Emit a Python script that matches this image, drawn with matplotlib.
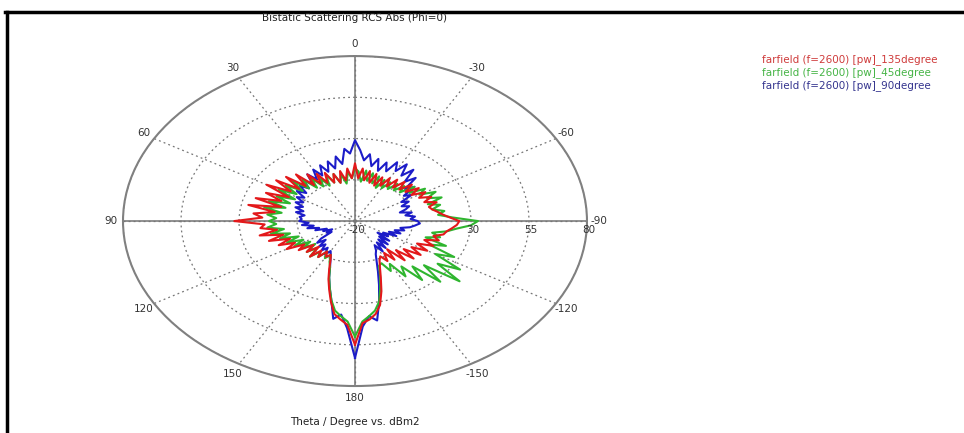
import numpy as np
import matplotlib
matplotlib.use("Agg")
import matplotlib.pyplot as plt
from matplotlib.lines import Line2D

# Winkel in Grad (positiv = nach links, 0 oben), Schritt 3 Grad
theta_deg = list(range(-180, 180, 3))

# Werte in dBm2
red_135 = [55, 42, 40, 37, 32, 24, 16, 10, 6, 4,
           8, 3, 9, 2, 12, 5, 14, 7, 15, 9,
           16, 10, 17, 12, 18, 15, 19, 20, 22, 24,
           25, 21, 18, 16, 14, 13, 17, 12, 16, 11,
           15, 9, 14, 8, 13, 7, 12, 6, 11, 5,
           10, 4, 9, 3, 10, 4, 11, 5, 12, 6,
           15, 6, 12, 5, 11, 4, 10, 5, 12, 6,
           13, 7, 15, 8, 18, 10, 20, 11, 22, 13,
           24, 12, 22, 14, 25, 13, 27, 15, 24, 20,
           32, 19, 21, 14, 22, 12, 19, 10, 16, 9,
           14, 6, 10, 3, 8, 2, 9, 3, 7, 2,
           5, 3, 6, 11, 17, 23, 30, 37, 40, 43]

green_45 = [50, 41, 38, 35, 30, 22, 15, 9, 8, 14,
            10, 20, 14, 26, 17, 32, 20, 38, 24, 34,
            20, 28, 15, 22, 12, 18, 14, 20, 24, 30,
            33, 22, 16, 19, 14, 18, 13, 20, 14, 19,
            12, 16, 9, 13, 6, 10, 5, 9, 4, 8,
            3, 8, 2, 9, 4, 10, 5, 11, 4, 10,
            12, 6, 10, 3, 9, 4, 10, 5, 11, 4,
            10, 5, 12, 6, 14, 8, 16, 9, 17, 10,
            18, 9, 17, 10, 19, 11, 20, 12, 18, 14,
            17, 14, 18, 11, 17, 9, 14, 6, 12, 5,
            10, 3, 8, 2, 8, 3, 9, 4, 7, 2,
            6, 3, 7, 10, 16, 22, 29, 35, 38, 41]

blue_90 = [63, 44, 38, 41, 30, 20, 12, 6, 2, 0,
           -3, 2, -4, 1, -5, 0, -6, -1, -8, -3,
           -6, 0, -4, 1, -2, 2, 0, 4, 6, 8,
           7, 4, 6, 2, 5, 0, 3, 5, 2, 6,
           3, 9, 6, 13, 9, 17, 12, 20, 14, 21,
           15, 20, 13, 18, 12, 19, 14, 21, 17, 23,
           29, 21, 24, 15, 20, 13, 18, 12, 17, 11,
           16, 10, 15, 9, 13, 8, 12, 7, 11, 6,
           9, 5, 8, 4, 7, 3, 6, 2, 4, 3,
           4, 0, 3, -2, 1, -4, -2, -7, -5, -9,
           -6, -8, -2, 1, -3, 2, -1, 3, 0, 4,
           1, 3, 6, 10, 16, 22, 29, 40, 37, 45]

series = [("farfield (f=2600) [pw]_90degree", blue_90, "#1c1cc8", "#34348e"),
          ("farfield (f=2600) [pw]_45degree", green_45, "#2fb52f", "#46b446"),
          ("farfield (f=2600) [pw]_135degree", red_135, "#e3181a", "#cf3b3b")]

r_ticks = [5, 30, 55, 80]
r_labels = ["-20", "30", "55", "80"]
theta_ticks = [0, 30, 60, 90, 120, 150, 180, 210, 240, 270, 300, 330]
theta_labels = ["0", "30", "60", "90", "120", "150", "180", "-150", "-120", "-90", "-60", "-30"]

fs = 7.5
fig = plt.figure(figsize=(9.64, 4.33), dpi=100)
ax = fig.add_axes([0.1276, 0.1085, 0.4813, 0.762], projection="polar")
ax.set_aspect("auto")
ax.set_theta_zero_location("N")
ax.set_theta_direction(1)

th = np.deg2rad(theta_deg + [180])
for name, vals, col, _ in series:
    ax.plot(th, vals + [vals[0]], color=col, lw=1.5)

ax.set_ylim(-20, 80)
ax.set_yticks(r_ticks)
ax.set_yticklabels([])
ax.set_thetagrids(theta_ticks, theta_labels, fontsize=fs, color="#333333")
ax.tick_params(axis="x", pad=-2)
ax.grid(True, linestyle=(0, (1.5, 2.5)), color="#777777", lw=0.9)
ax.spines["polar"].set_color("#808080")
ax.spines["polar"].set_linewidth(1.5)

# Hauptachsen durchgezogen
for a in [0, 90, 180, 270]:
    ax.plot([np.deg2rad(a)] * 2, [-20, 80], color="#888888", lw=1.3, zorder=1)

# Radiale Beschriftung unter der -90-Achse
for r, lbl in zip([-20, 30, 55, 80], r_labels):
    ax.annotate(lbl, xy=(np.deg2rad(-90), r), xytext=(1.5, -3), textcoords="offset points",
                ha="center", va="top", fontsize=fs, color="#333333")

fig.text(355 / 964, 1 - 18 / 433, "Bistatic Scattering RCS Abs (Phi=0)",
         ha="center", va="center", fontsize=fs, color="#222222")
fig.text(355 / 964, 1 - 422 / 433, "Theta / Degree vs. dBm2",
         ha="center", va="center", fontsize=fs, color="#222222")

# Legende als farbiger Text
for i, (name, vals, col, tcol) in enumerate(reversed(series)):
    fig.text(762 / 964, 1 - (60 + 13 * i) / 433, name, ha="left", va="center",
             fontsize=fs, color=tcol)

# Rahmen oben und links
fig.add_artist(Line2D([5 / 964, 1], [1 - 12 / 433] * 2, color="black", lw=2.5,
                      transform=fig.transFigure))
fig.add_artist(Line2D([7 / 964] * 2, [0, 1 - 12 / 433], color="black", lw=2.5,
                      transform=fig.transFigure))

fig.savefig("out.png", dpi=100)
